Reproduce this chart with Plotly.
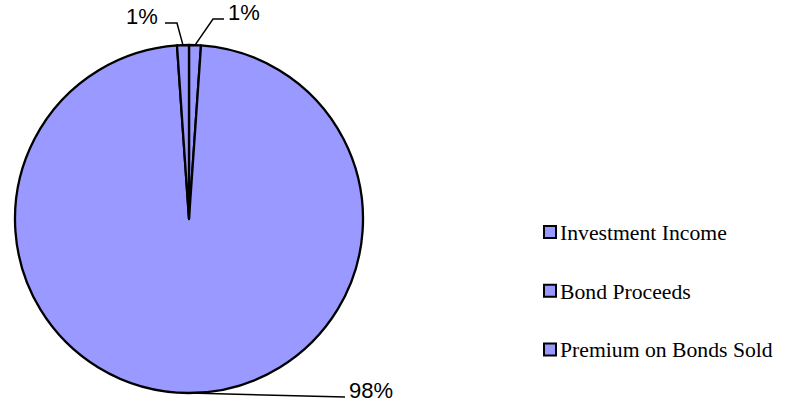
import math
import plotly.graph_objects as go

# Revenue sources (share of total, percent)
labels = ["Investment Income", "Bond Proceeds", "Premium on Bonds Sold"]
values = [1.1, 97.8, 1.1]

# Label leader offsets in pixels: (elbow dx, elbow dy, end dx)
leader_elbow = [(18, -26, 11), (156, 4, 0), (-6, -22, -12)]

W, H = 793, 404
FILL = "#9999FF"
SANS = "Arial, 'Liberation Sans', sans-serif"
SERIF = "'Times New Roman', 'Liberation Serif', serif"

# Pie geometry in pixels
cx, cy, R = 189, 219, 174


def px(x):
    return x / W


def py(y):
    return 1 - y / H


fig = go.Figure()
fig.add_trace(go.Pie(
    labels=labels,
    values=values,
    sort=False,
    direction="clockwise",
    rotation=0,
    marker=dict(colors=[FILL] * len(values), line=dict(color="black", width=2.3)),
    textinfo="none",
    hoverinfo="label+percent",
    showlegend=False,
    domain=dict(x=[px(cx - R), px(cx + R)], y=[py(cy + R), py(cy - R)]),
))

shapes = []
annotations = []
total = sum(values)
cum = 0.0
for i, v in enumerate(values):
    mid = (cum + v / 2) / total * 2 * math.pi
    cum += v
    sx = cx + R * math.sin(mid)
    sy = cy - R * math.cos(mid)
    edx, edy, tdx = leader_elbow[i]
    ex, ey = sx + edx, sy + edy
    tx = ex + tdx
    shapes.append(dict(
        type="path", xref="paper", yref="paper",
        path=f"M {px(sx)} {py(sy)} L {px(ex)} {py(ey)} L {px(tx)} {py(ey)}",
        line=dict(color="black", width=1.5),
    ))
    pct = f"{round(v / total * 100)}%"
    right = tx >= sx
    annotations.append(dict(
        x=px(tx + (2 if right else -5)), y=py(ey - 7),
        xref="paper", yref="paper",
        text=pct, showarrow=False,
        xanchor="left" if right else "right", yanchor="middle",
        font=dict(family=SANS, size=22, color="black"),
    ))

# Legend drawn as swatches plus labels
leg_x, leg_y0, leg_step, sw = 544, 232, 58.7, 12
for i, name in enumerate(labels):
    yc = leg_y0 + i * leg_step
    shapes.append(dict(
        type="rect", xref="paper", yref="paper",
        x0=px(leg_x), x1=px(leg_x + sw), y0=py(yc + sw / 2), y1=py(yc - sw / 2),
        fillcolor=FILL, line=dict(color="black", width=2),
    ))
    annotations.append(dict(
        x=px(leg_x + sw + 2), y=py(yc + 1),
        xref="paper", yref="paper",
        text=name, showarrow=False,
        xanchor="left", yanchor="middle",
        font=dict(family=SERIF, size=21.7, color="black"),
    ))

fig.update_layout(
    width=W, height=H,
    margin=dict(l=0, r=0, t=0, b=0),
    paper_bgcolor="white",
    plot_bgcolor="white",
    shapes=shapes,
    annotations=annotations,
)

fig.write_html("out.html")
